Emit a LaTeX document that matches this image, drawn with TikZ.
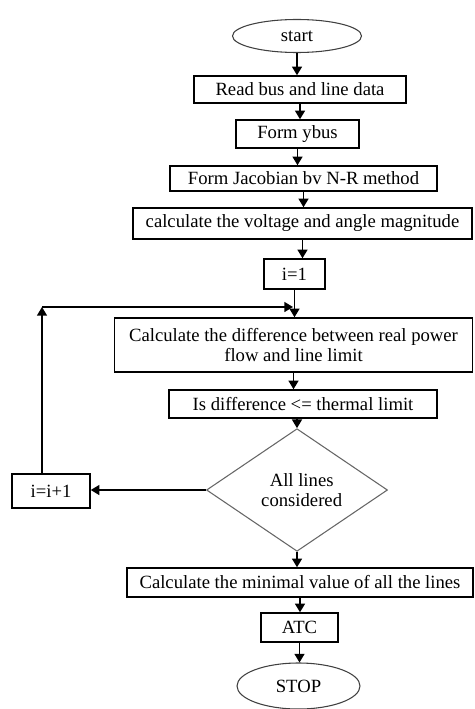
\documentclass[tikz,border=0pt]{standalone}
\usepackage{fontspec}
\setmainfont{Liberation Serif}
\usetikzlibrary{arrows.meta,shapes.geometric}

\begin{document}
\begin{tikzpicture}[x=0.75pt,y=-0.75pt,
    font=\fontsize{14}{14.5}\selectfont,
    >={Triangle[length=6.5pt,width=7.5pt]},
    flowbox/.style={draw,line width=1.1pt,inner sep=0pt,align=center},
    terminal/.style={draw=black!75,line width=0.8pt,ellipse,inner sep=0pt},
    decision/.style={draw=black!60,line width=0.8pt,diamond,inner sep=0pt,align=center},
    flow/.style={->,line width=1.1pt}]
    \useasboundingbox (0,0) rectangle (474,709);
    % boxes
    \node[terminal,minimum width=96.75pt,minimum height=24.75pt] (start) at (297,36) {start};
    \node[flowbox,minimum width=159pt,minimum height=20.25pt] (read) at (300,89.5) {Read bus and line data};
    \node[flowbox,minimum width=92.25pt,minimum height=21pt] (ybus) at (297.5,134) {Form ybus};
    \node[flowbox,minimum width=200.25pt,minimum height=18.75pt] (jacob) at (303.5,178.5) {Form Jacobian bv N-R method};
    \node[flowbox,minimum width=254.25pt,minimum height=23.25pt] (volt) at (302.5,223.5) {calculate the voltage and angle magnitude};
    \node[flowbox,minimum width=45.75pt,minimum height=22.5pt] (ione) at (294.5,274) {i=1};
    \node[flowbox,minimum width=268.5pt,minimum height=40.5pt] (diff) at (293.5,345) {Calculate the difference between real power\\flow and line limit};
    \node[flowbox,minimum width=201pt,minimum height=21pt] (thermal) at (303,404) {Is difference <= thermal limit};
    \node[decision,minimum width=135.75pt,minimum height=90pt] (alllines) at (297,490) {\hspace*{7pt}All lines\\\hspace*{7pt}considered};
    \node[flowbox,minimum width=58.5pt,minimum height=25.5pt] (incr) at (51,491) {i=i+1};
    \node[flowbox,minimum width=259.5pt,minimum height=21.75pt] (minval) at (300,582.5) {Calculate the minimal value of all the lines};
    \node[flowbox,minimum width=57.75pt,minimum height=21.75pt] (atc) at (299.5,627.5) {ATC};
    \node[terminal,minimum width=92.25pt,minimum height=34.5pt] (stop) at (298.5,686) {STOP};
    % connectors
    \draw[flow] (start.south) -- (start.south |- read.north);
    \draw[flow] (read.south) -- (read.south |- ybus.north);
    \draw[flow] (ybus.south) -- (ybus.south |- jacob.north);
    \draw[flow] (jacob.south) -- (jacob.south |- volt.north);
    \draw[flow] (volt.south) -- (volt.south |- ione.north);
    \draw[flow] (ione.south) -- (ione.south |- diff.north);
    \draw[flow] (diff.south) -- (diff.south |- thermal.north);
    \draw[flow] (alllines.north |- thermal.south) -- (alllines.north);
    \draw[flow] (alllines.west) -- (alllines.west -| incr.east);
    \draw[flow] (alllines.south) -- (alllines.south |- minval.north);
    \draw[flow] (minval.south) -- (minval.south |- atc.north);
    \draw[flow] (atc.south) -- (atc.south |- stop.north);
    % loop back
    \coordinate (corner) at (42,307);
    \coordinate (join) at (293,307);
    \draw[flow] (corner |- incr.north) -- (corner);
    \draw[flow] (corner) -- (join);
\end{tikzpicture}
\end{document}
